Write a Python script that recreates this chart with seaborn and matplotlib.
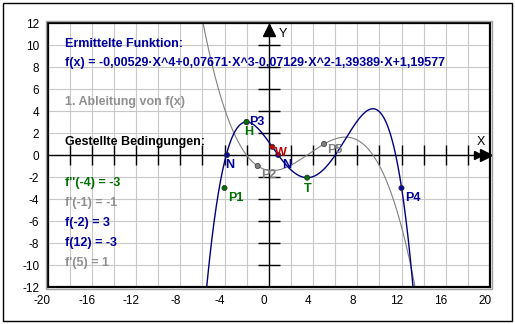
import numpy as np
import pandas as pd
import matplotlib
matplotlib.use("Agg")
import matplotlib.pyplot as plt
import matplotlib.transforms as mtransforms
import seaborn as sns

# ---- data ----
coeffs_f = [-0.00529, 0.07671, -0.07129, -1.39389, 1.19577]   # f(x) = ... (as printed)
x_ticks = [-20, -16, -12, -8, -4, 0, 4, 8, 12, 16, 20]
y_ticks = [-12, -10, -8, -6, -4, -2, 0, 2, 4, 6, 8, 10, 12]

pt_labels = ["P1", "P2", "P3", "P4", "P5", "H", "T", "N", "N", "W"]
pt_x = [-4, -1, -2, 12, 5, -2.01, 3.47, -3.77, 0.85, 0.32]
pt_y = [-3, -1, 3, -3, 1, 3.0, -2.06, 0.0, 0.0, 0.74]
pt_colors = ["#007000", "#808080", "#0000a0", "#0000a0", "#808080",
             "#007000", "#007000", "#0000a0", "#0000a0", "#c00000"]

cond_texts = ["f''(-4) = -3", "f'(-1) = -1", "f(-2) = 3", "f(12) = -3", "f'(5) = 1"]
cond_colors = ["#007000", "#909090", "#0000a0", "#0000a0", "#909090"]

NAVY = "#000080"
GRAY = "#808080"
FS = 9

sns.set_style("white")
plt.rcParams["font.family"] = ["Liberation Sans", "DejaVu Sans"]

fig = plt.figure(figsize=(5.15, 3.24), dpi=100)
ax = fig.add_axes([47.5 / 515, 37 / 324, 442.5 / 515, 264 / 324])

# curves
xs = np.linspace(-20, 20, 2001)
p = np.poly1d(coeffs_f)
dp = p.deriv()
df_f = pd.DataFrame({"x": xs, "y": p(xs)})
df_d = pd.DataFrame({"x": xs, "y": dp(xs)})
df_f.loc[(df_f.y > 14) | (df_f.y < -14), "y"] = np.nan
df_d.loc[(df_d.y > 14) | (df_d.y < -14), "y"] = np.nan

ax.set_xlim(-20, 20)
ax.set_ylim(-12, 12)

# grid
for gx in range(-20, 21, 2):
    ax.axvline(gx, color="#c8c8c8", lw=0.8, zorder=0)
for gy in range(-12, 13, 2):
    ax.axhline(gy, color="#c8c8c8", lw=0.8, zorder=0)

# axes lines with ticks
ax.axhline(0, color="black", lw=1.0, zorder=1)
ax.axvline(0, color="black", lw=1.0, zorder=1)
ax.vlines([t for t in range(-18, 19, 2) if t != 0], -0.9, 0.9, color="black", lw=1.0, zorder=1)
ax.hlines([t for t in range(-10, 11, 2) if t != 0], -1.0, 1.0, color="black", lw=1.0, zorder=1)
ax.plot([19.6], [0], marker=">", ms=8, color="black", clip_on=False, zorder=2)
ax.plot([18.9], [0], marker=">", ms=6, color="black", clip_on=False, zorder=2)
ax.plot([0], [11.4], marker="^", ms=8, color="black", clip_on=False, zorder=2)
ax.text(18.8, 1.2, "X", fontsize=9, color="black", ha="left", va="center")
ax.text(0.9, 11.0, "Y", fontsize=9, color="black", ha="left", va="center")

sns.lineplot(data=df_d, x="x", y="y", color=GRAY, lw=0.8, ax=ax, zorder=3)
sns.lineplot(data=df_f, x="x", y="y", color=NAVY, lw=1.0, ax=ax, zorder=4)

# points
df_p = pd.DataFrame({"x": pt_x, "y": pt_y, "lab": pt_labels, "c": pt_colors})
sns.scatterplot(data=df_p, x="x", y="y", hue="c", palette={c: c for c in set(pt_colors)},
                legend=False, ax=ax, s=14, edgecolor="#303030", linewidth=0.5, zorder=5)
offsets = {"P1": (0.3, -0.9), "P2": (0.3, -0.8), "P3": (0.2, 0.0), "P4": (0.3, -0.9),
           "P5": (0.3, -0.5), "H": (-0.2, -0.9), "T": (-0.3, -1.0), "W": (0.2, -0.6)}
for lab, x, y, c in zip(pt_labels, pt_x, pt_y, pt_colors):
    if lab == "N":
        dx, dy = (-0.2, -0.9) if x < 0 else (0.35, -0.9)
    else:
        dx, dy = offsets[lab]
    ax.text(x + dx, y + dy, lab, color=c, fontsize=FS, fontweight="bold",
            ha="left", va="center", zorder=6)

# texts
tx = -18.4
ax.text(tx, 10.1, "Ermittelte Funktion:", color="#0000a0", fontsize=FS, fontweight="bold", va="center")
ax.text(tx, 8.4, "f(x) = -0,00529·X^4+0,07671·X^3-0,07129·X^2-1,39389·X+1,19577",
        color="#0000a0", fontsize=FS, fontweight="bold", va="center")
ax.text(tx, 4.8, "1. Ableitung von f(x)", color="#909090", fontsize=FS, fontweight="bold", va="center")
ax.text(tx, 1.2, "Gestellte Bedingungen:", color="black", fontsize=FS, fontweight="bold", va="center")
for i, (t, c) in enumerate(zip(cond_texts, cond_colors)):
    ax.text(tx, -2.5 - 1.83 * i, t, color=c, fontsize=FS, fontweight="bold", va="center")

# frame & ticks
ax.set_xticks(x_ticks)
ax.set_yticks(y_ticks)
ax.set_xticklabels([str(t) for t in x_ticks])
ax.set_yticklabels([str(t) for t in y_ticks])
ax.tick_params(axis="both", direction="out", length=4, width=0.8, color="#909090",
               labelsize=8.5, labelcolor="black", pad=2)
off = mtransforms.ScaledTranslation(-5 / 100, 0, fig.dpi_scale_trans)
for lbl in ax.get_xticklabels():
    lbl.set_transform(lbl.get_transform() + off)
for s in ax.spines.values():
    s.set_color("black")
    s.set_linewidth(1.6)
    s.set_zorder(7)
ax.set_xlabel("")
ax.set_ylabel("")

# outer border
fig.patches.append(plt.Rectangle((3 / 515, 3 / 324), 509 / 515, 318 / 324, transform=fig.transFigure,
                                 fill=False, edgecolor="black", lw=1.0))
fig.patches.append(plt.Rectangle((45.5 / 515, 35 / 324), 446.5 / 515, 268 / 324, transform=fig.transFigure,
                                 fill=False, edgecolor="#a0a0a0", lw=1.0))

fig.savefig("out.png", dpi=100)
